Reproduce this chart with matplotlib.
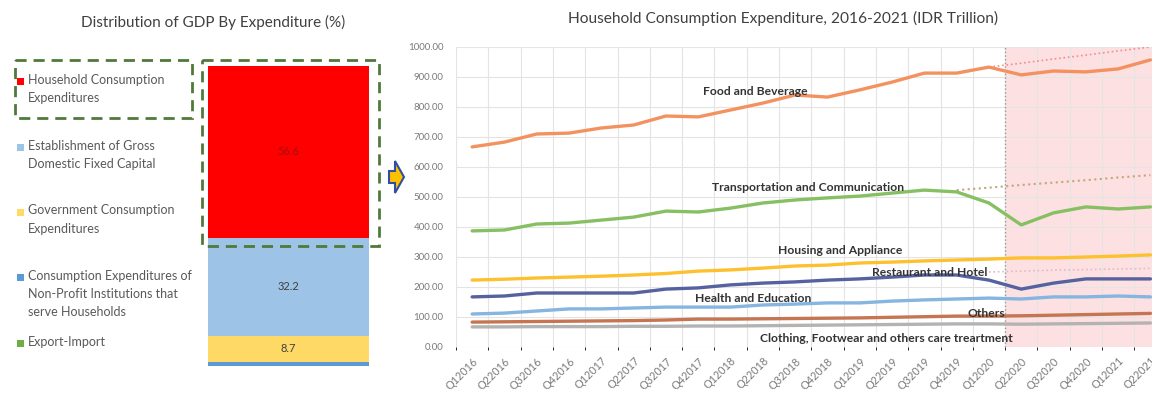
import matplotlib
matplotlib.use("Agg")
import matplotlib.pyplot as plt
from matplotlib.patches import Rectangle, Polygon
import numpy as np

plt.rcParams['font.family'] = ['Lato', 'DejaVu Sans']

# GDP shares by expenditure (%), stacked bottom-up
gdp_parts = ["Export-Import",
             "Consumption Expenditures of\nNon-Profit Institutions that\nserve Households",
             "Government Consumption\nExpenditures",
             "Establishment of Gross\nDomestic Fixed Capital",
             "Household Consumption\nExpenditures"]
gdp_share = [0.0, 1.3, 8.7, 32.2, 56.6]
gdp_colors = ['#70ad47', '#5b9bd5', '#ffd966', '#9dc3e6', '#ff0000']
gdp_labelled = [False, False, True, True, True]

# household consumption by category, IDR trillion
quarters = [f"Q{q}{y}" for y in range(2016, 2022) for q in range(1, 5)][:22]
food = [667, 683, 710, 713, 730, 740, 770, 767, 790, 813, 840, 833,
        857, 883, 913, 913, 933, 907, 920, 917, 927, 957]
transport = [387, 390, 410, 413, 423, 433, 453, 450, 463, 480, 490, 497,
             503, 513, 523, 517, 480, 407, 447, 467, 460, 467]
housing = [223, 226, 230, 233, 236, 240, 245, 253, 257, 263, 270, 273,
           280, 283, 287, 290, 293, 297, 297, 300, 303, 307]
restaurant = [167, 170, 180, 180, 180, 180, 193, 197, 207, 213, 217, 223,
              227, 233, 240, 240, 223, 193, 213, 227, 227, 227]
health = [110, 113, 120, 127, 127, 130, 133, 133, 133, 140, 143, 147,
          147, 153, 157, 160, 163, 160, 167, 167, 170, 167]
others = [83, 84, 85, 86, 87, 88, 90, 93, 93, 94, 95, 96,
          97, 99, 101, 103, 103, 104, 106, 108, 110, 112]
clothing = [67, 67, 68, 68, 68, 69, 69, 70, 70, 71, 72, 73,
            74, 75, 76, 77, 77, 76, 77, 78, 79, 80]

# pre-pandemic trend projections
food_trend = [933, 946, 960, 973, 987, 1000]           # Q1 2020 - Q2 2021
transport_trend = [523, 531, 540, 548, 556, 565, 573]  # Q4 2019 - Q2 2021
restaurant_trend = [250, 253, 256, 258, 260, 262]      # Q1 2020 - Q2 2021

series = [
    ("Food and Beverage", food, '#f4925f', 7.15, 853),
    ("Transportation and Communication", transport, '#86c063', 7.43, 533),
    ("Housing and Appliance", housing, '#fdc12f', 9.47, 320),
    ("Restaurant and Hotel", restaurant, '#55629f', 12.38, 250),
    ("Health and Education", health, '#86b5e0', 6.9, 163),
    ("Others", others, '#c67552', 15.35, 113),
    ("Clothing, Footwear and others care treartment", clothing, '#b3b3b3', 8.91, 30),
]

W, H = 1152, 400
fig = plt.figure(figsize=(W / 100, H / 100), dpi=100)

# ---- left: stacked bar ----
bx = fig.add_axes([208 / W, (H - 366) / H, (369 - 208) / W, 304 / H])
bottom = 0
for val, col, lab in zip(gdp_share, gdp_colors, gdp_labelled):
    bx.bar(0, val, width=1.0, bottom=bottom, color=col, linewidth=0)
    if lab:
        bx.text(0, bottom + val / 2, f"{val:.1f}", ha='center', va='center',
                fontsize=8, color='#404040' if col != '#ff0000' else '#a01010')
    bottom += val
bx.set_xlim(-0.5, 0.5)
bx.set_ylim(0, 100)
bx.axis('off')

# ---- right: consumption lines ----
ax = fig.add_axes([456 / W, (H - 347) / H, 22 * 32.3 / W, 300 / H])
x = np.arange(len(quarters))
ax.axvspan(16.5, 21.5, color='#fde1e2', zorder=0, linewidth=0)
ax.axvline(16.5, color='#999999', linestyle=':', linewidth=1, zorder=1)
for name, vals, col, lx, ly in series:
    ax.plot(x, vals, color=col, linewidth=2.4, zorder=3, solid_capstyle='round')
    ax.text(lx, ly, name, fontsize=8.7, fontweight='bold', color='#333333',
            va='center', ha='left', zorder=5)
ax.plot(x[16:], food_trend, color='#f28c8c', linestyle=':', linewidth=1.2, zorder=2)
ax.plot(x[15:], transport_trend, color='#c6a57a', linestyle=':', linewidth=1.5, zorder=2)
ax.plot(x[16:], restaurant_trend, color='#e2b9c6', linestyle=':', linewidth=1.2, zorder=2)

ax.set_xlim(-0.5, 21.5)
ax.set_ylim(0, 1000)
ax.set_yticks(np.arange(0, 1001, 100))
ax.set_yticklabels([f"{v:.2f}" for v in range(0, 1001, 100)])
ax.set_xticks(x)
ax.set_xticklabels(quarters, rotation=45, ha='right', rotation_mode='anchor')
ax.set_xticks(np.arange(-0.5, 22, 1), minor=True)
ax.tick_params(axis='both', length=0, labelsize=7, colors='#7a7a7a')
ax.tick_params(axis='x', labelsize=7.8, pad=6)
ax.tick_params(axis='y', pad=9)
ax.grid(axis='y', color='#e4e4e4', linewidth=0.8)
ax.grid(axis='x', which='minor', color='#e4e4e4', linewidth=0.8)
ax.set_axisbelow(True)
for s in ax.spines.values():
    s.set_visible(False)

# ---- overlay: titles, legend, boxes, arrow ----
ov = fig.add_axes([0, 0, 1, 1], zorder=10)
ov.set_xlim(0, W)
ov.set_ylim(H, 0)
ov.axis('off')
ov.patch.set_alpha(0)

ov.text(213, 22, "Distribution of GDP By Expenditure (%)", ha='center', va='center',
        fontsize=11, color='#404040')
ov.text(783, 18, "Household Consumption Expenditure, 2016-2021 (IDR Trillion)",
        ha='center', va='center', fontsize=11.2, color='#404040')

legend_y = [343, 277, 212, 147, 81]
for name, col, ly in zip(gdp_parts, gdp_colors, legend_y):
    ov.add_patch(Rectangle((17, ly - 3.5), 7, 7, color=col, linewidth=0))
    ov.text(28, ly - 7.5, name, ha='left', va='top', fontsize=9, color='#595959',
            linespacing=1.62)

for (x0, y0, x1, y1) in [(15, 60, 192, 118), (202, 60, 379, 246)]:
    ov.add_patch(Rectangle((x0, y0), x1 - x0, y1 - y0, fill=False,
                           edgecolor='#4f7a3a', linewidth=2.0,
                           linestyle=(0, (4, 2.5))))

ov.add_patch(Polygon([(389, 171), (395, 171), (395, 161), (404, 177),
                      (395, 193), (395, 183), (389, 183)],
                     closed=True, facecolor='#ffc000', edgecolor='#2f4fa0',
                     linewidth=1.5))

fig.savefig("out.png", dpi=100)
